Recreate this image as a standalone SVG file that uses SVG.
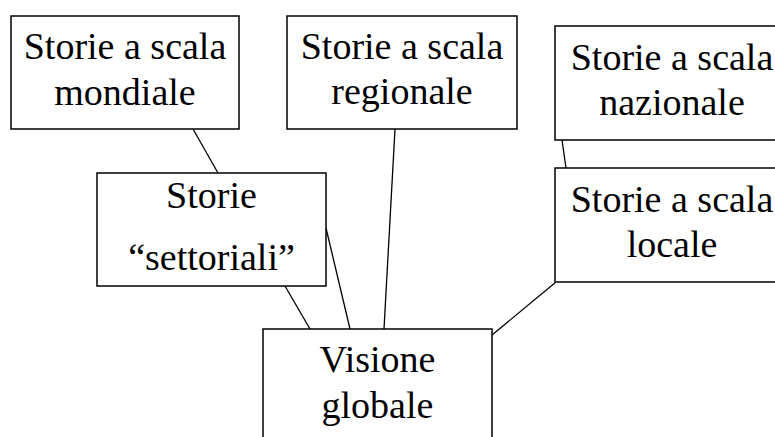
<svg xmlns="http://www.w3.org/2000/svg" width="775" height="437" viewBox="0 0 775 437">
<style>
.box{fill:#fff;stroke:#000;stroke-width:1.5}
text{font-family:'Liberation Serif','Times New Roman','DejaVu Serif',serif;font-size:38px;fill:#000;text-anchor:middle}
.c line{stroke:#000;stroke-width:1.3}
</style>
<rect width="775" height="437" fill="#fff"/>
<g class="c" id="connectors">
<line x1="193" y1="129" x2="218" y2="173"/>
<line x1="395" y1="129" x2="384" y2="329"/>
<line x1="326" y1="228" x2="350" y2="329"/>
<line x1="285" y1="286" x2="310" y2="329"/>
<line x1="562" y1="140" x2="566" y2="168"/>
<line x1="556" y1="282" x2="492" y2="335"/>
</g>
<g id="mondiale" font-family="Liberation Serif, serif">
<rect class="box" x="11" y="16" width="228" height="113"/>
<text x="125" y="59">Storie a scala</text>
<text x="125" y="105">mondiale</text>
</g>
<g id="regionale" font-family="Liberation Serif, serif">
<rect class="box" x="287" y="16" width="230" height="113"/>
<text x="402" y="59">Storie a scala</text>
<text x="402" y="104">regionale</text>
</g>
<g id="nazionale" font-family="Liberation Serif, serif">
<rect class="box" x="555" y="26" width="234" height="114"/>
<text x="672" y="70">Storie a scala</text>
<text x="672" y="115">nazionale</text>
</g>
<g id="settoriali" font-family="Liberation Serif, serif">
<rect class="box" x="97" y="173" width="229" height="113"/>
<text x="211.5" y="208">Storie</text>
<text x="211.5" y="270">“settoriali”</text>
</g>
<g id="locale" font-family="Liberation Serif, serif">
<rect class="box" x="555" y="168" width="234" height="114"/>
<text x="672" y="212">Storie a scala</text>
<text x="672" y="257">locale</text>
</g>
<g id="visione" font-family="Liberation Serif, serif">
<rect class="box" x="263" y="329" width="229" height="120"/>
<text x="377.5" y="372">Visione</text>
<text x="377.5" y="418">globale</text>
</g>
</svg>
